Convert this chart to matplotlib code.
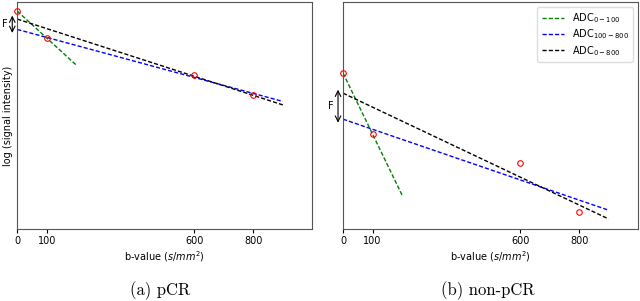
import numpy as np
import matplotlib
matplotlib.use("Agg")
import matplotlib.pyplot as plt

plt.rcParams['mathtext.fontset'] = 'dejavusans'

# b-values and log signal (arbitrary units)
b_vals = [0, 100, 600, 800]
pcr_log = [2.18, 1.91, 1.54, 1.34]
nonpcr_log = [1.56, 0.95, 0.66, 0.17]
xticks = [0, 100, 600, 800]
captions = ['(a) pCR', '(b) non-pCR']

fig = plt.figure(figsize=(6.4, 3.01), dpi=100)
ax1 = fig.add_axes([0.027, 0.239, 0.461, 0.754])
ax2 = fig.add_axes([0.536, 0.239, 0.461, 0.754])

def draw(ax, y, legend=False):
    b = np.array(b_vals, float)
    y = np.array(y, float)
    # fits
    p_lo = np.polyfit(b[:2], y[:2], 1)
    p_hi = np.polyfit(b[1:], y[1:], 1)
    p_all = np.polyfit(b, y, 1)
    xg = np.array([0, 200])
    xl = np.array([0, 900])
    dash = (0, (3, 1.5))
    ax.plot(xg, np.polyval(p_lo, xg), ls=dash, color='green', lw=1, label=r'ADC$_{0-100}$')
    ax.plot(xl, np.polyval(p_hi, xl), ls=dash, color='blue', lw=1, label=r'ADC$_{100-800}$')
    ax.plot(xl, np.polyval(p_all, xl), ls=dash, color='black', lw=1, label=r'ADC$_{0-800}$')
    ax.plot(b, y, 'o', mfc='none', mec='red', ms=4, mew=0.8, clip_on=False)
    # F arrow between intercepts
    top, bot = p_all[1], p_hi[1]
    ax.annotate('', xy=(-17, top + 0.035), xytext=(-17, bot - 0.035),
                arrowprops=dict(arrowstyle='<->', color='black', lw=0.8,
                                shrinkA=0, shrinkB=0),
                annotation_clip=False)
    ax.text(-32, (top + bot) / 2, 'F', fontsize=7, ha='right', va='center', clip_on=False)
    ax.set_xlim(0, 1000)
    ax.set_ylim(0, 2.27)
    ax.set_xticks(xticks)
    ax.set_yticks([])
    ax.tick_params(axis='x', labelsize=7, length=3, pad=2)
    ax.set_xlabel(r'b-value ($s/mm^2$)', fontsize=7, labelpad=2)
    for s in ax.spines.values():
        s.set_color('#555555')
        s.set_linewidth(0.8)
    if legend:
        ax.legend(loc='upper right', fontsize=7, handlelength=2.3, borderpad=0.45,
                  labelspacing=0.25, framealpha=1, edgecolor='#dddddd')

draw(ax1, pcr_log)
draw(ax2, nonpcr_log, legend=True)
ax1.set_ylabel('log (signal intensity)', fontsize=7, labelpad=3)

fig.text(0.25, 0.035, captions[0], fontsize=12, family='cmr10', ha='center', va='center')
fig.text(0.763, 0.035, captions[1], fontsize=12, family='cmr10', ha='center', va='center')

fig.savefig('out.png', dpi=100)
